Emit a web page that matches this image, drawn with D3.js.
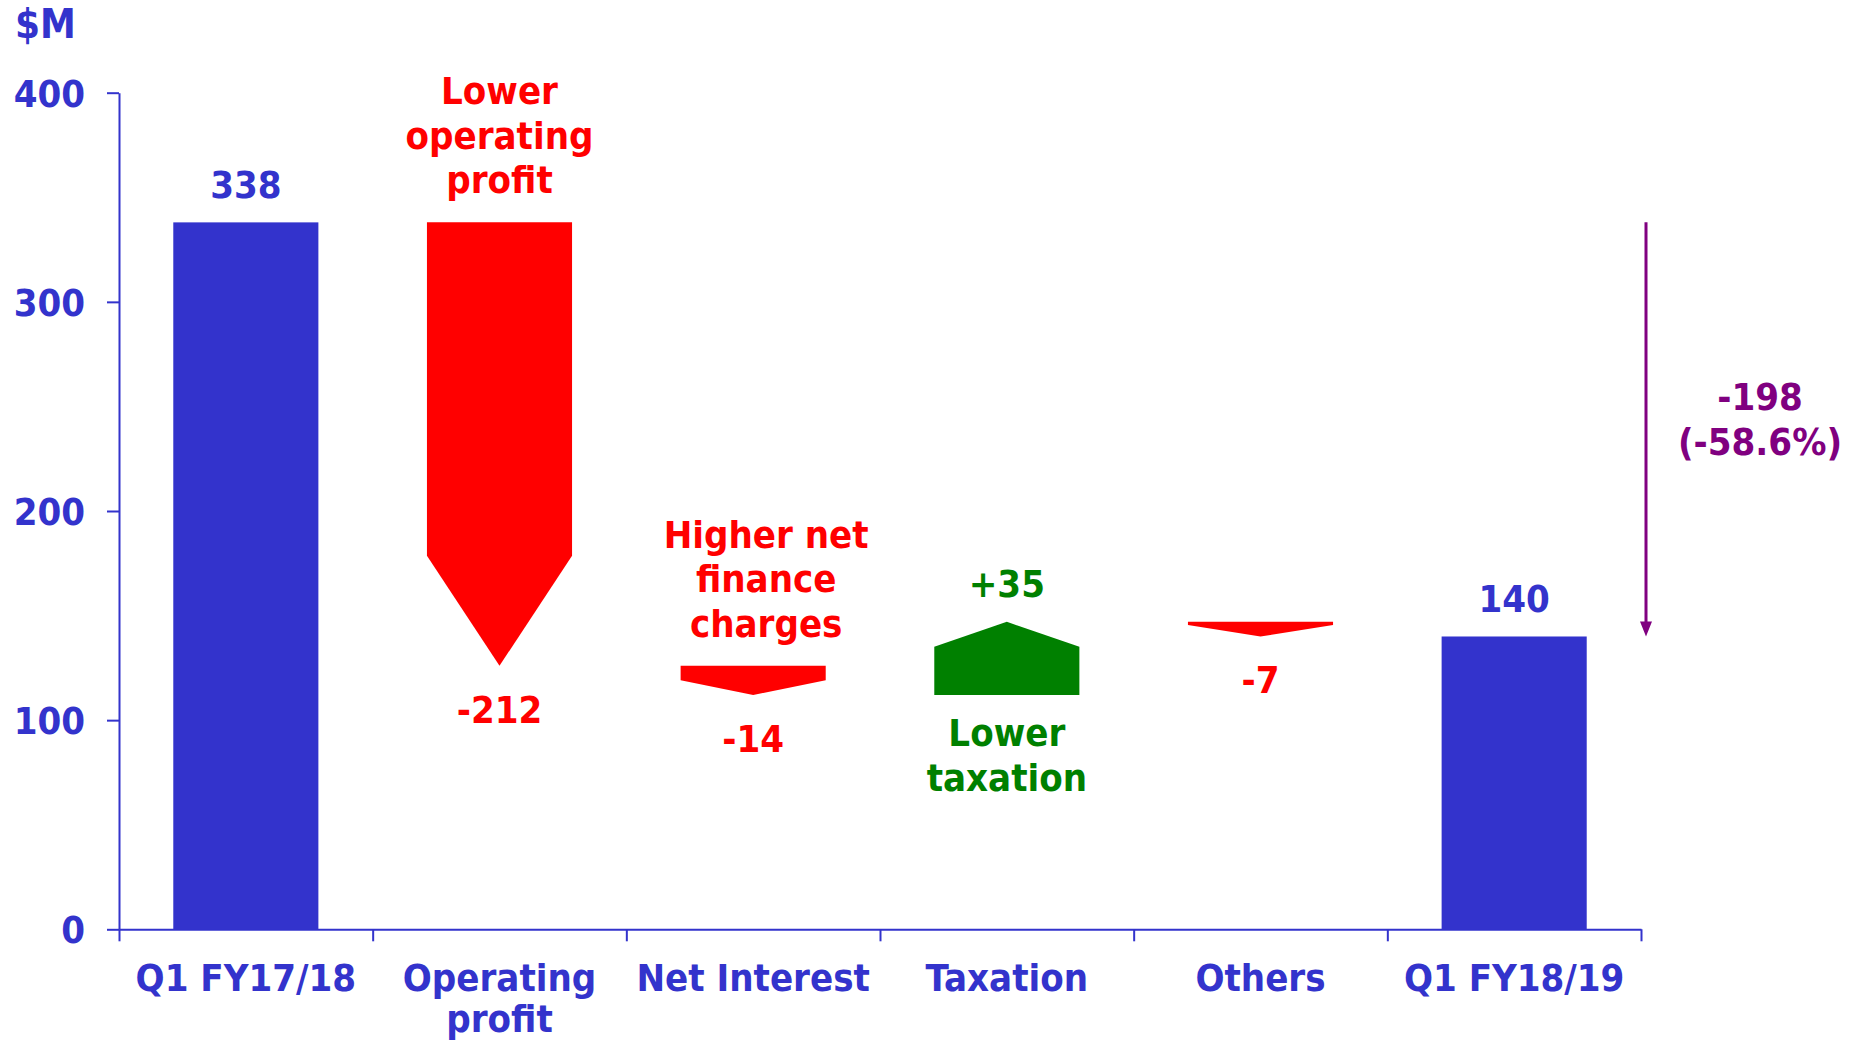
<!DOCTYPE html>
<html lang="en">
<head>
    <meta charset="UTF-8">
    <title>Profit bridge Q1 FY17/18 to Q1 FY18/19</title>
    <script src="https://d3js.org/d3.v7.min.js"></script>
    <style>
        body { margin: 0; background: white; }
        text { font-family: "DejaVu Sans Condensed", "DejaVu Sans", sans-serif; font-weight: bold; }
    </style>
</head>
<body>
    <svg id="svg1" height="1042" width="1857" style="background: white"></svg>

    <script>
        // data -------------------------------------------------------------------------
        const categories = ["Q1 FY17/18", "Operating\nprofit", "Net Interest", "Taxation", "Others", "Q1 FY18/19"];
        const steps = [338, -212, -14, 35, -7, 140];
        const stepKinds = ["total", "delta", "delta", "delta", "delta", "total"];
        const valueLabels = ["338", "-212", "-14", "+35", "-7", "140"];
        const notes = [[], ["Lower", "operating", "profit"], ["Higher net", "finance", "charges"], ["Lower", "taxation"], [], []];
        const yTicks = [0, 100, 200, 300, 400];
        const overallChange = ["-198", "(-58.6%)"];

        // colours
        const blue = "#3333CC", red = "#FF0000", green = "#008000", purple = "#800080";

        // chart setup ------------------------------------------------------------------
        const svg = d3.select("svg#svg1");
        const plot = {left: 119, right: 1641, top: 92.7, bottom: 929.3};
        const fontSize = 38;

        const y = d3.scaleLinear().domain([0, 400]).range([plot.bottom, plot.top]);
        const x = d3.scaleBand().domain(d3.range(categories.length)).range([plot.left, plot.right]).padding(0);
        const xEdges = d3.scaleLinear().domain([0, categories.length]).range([plot.left, plot.right]);
        const barW = x.bandwidth() * 0.572;

        // running totals for the waterfall
        let running = 0;
        const bars = steps.map((v, i) => {
            let lo, hi;
            if (stepKinds[i] === "total") { lo = 0; hi = v; running = v; }
            else { const start = running; running += v; lo = Math.min(start, running); hi = Math.max(start, running); }
            return {i, v, kind: stepKinds[i], lo, hi, cx: x(i) + x.bandwidth() / 2};
        });

        // axes -------------------------------------------------------------------------
        const yAxis = svg.append("g")
            .attr("transform", `translate(${plot.left},0)`)
            .call(d3.axisLeft(y).tickValues(yTicks).tickSize(12).tickSizeOuter(0).tickPadding(22));

        const xAxis = svg.append("g")
            .attr("transform", `translate(0,${plot.bottom})`)
            .call(d3.axisBottom(xEdges).ticks(categories.length).tickSize(12).tickSizeOuter(0).tickFormat(""));

        [yAxis, xAxis].forEach(g => {
            g.selectAll("path, line").attr("stroke", blue).attr("stroke-width", 2);
        });
        yAxis.selectAll("text")
            .attr("fill", blue)
            .style("font-size", fontSize + "px")
            .attr("dy", "0.36em");

        // category labels
        categories.forEach((c, i) => {
            const t = svg.append("text")
                .attr("text-anchor", "middle")
                .attr("fill", blue)
                .style("font-size", fontSize + "px");
            c.split("\n").forEach((line, k) => {
                t.append("tspan").attr("x", x(i) + x.bandwidth() / 2).attr("y", 991 + k * 41).text(line);
            });
        });

        svg.append("text")
            .attr("x", 15).attr("y", 38)
            .attr("fill", blue)
            .style("font-size", "40px")
            .text("$M");

        // bars and arrows --------------------------------------------------------------
        const arrowPoints = b => {
            const x0 = b.cx - barW / 2, x1 = b.cx + barW / 2;
            const yTop = y(b.hi), yBot = y(b.lo);
            const h = yBot - yTop;
            const head = Math.min(h, 8 + 0.23 * h);
            if (b.v < 0) {
                return [[x0, yTop], [x1, yTop], [x1, yBot - head], [b.cx, yBot], [x0, yBot - head]];
            }
            return [[x0, yBot], [x1, yBot], [x1, yTop + head], [b.cx, yTop], [x0, yTop + head]];
        };

        bars.forEach(b => {
            if (b.kind === "total") {
                svg.append("rect")
                    .attr("x", b.cx - barW / 2).attr("y", y(b.hi))
                    .attr("width", barW).attr("height", y(b.lo) - y(b.hi))
                    .attr("fill", blue);
            } else {
                svg.append("polygon")
                    .attr("points", arrowPoints(b).map(p => p.join(",")).join(" "))
                    .attr("fill", b.v < 0 ? red : green);
            }
        });

        // value labels and notes ------------------------------------------------------
        const noteDx = {2: 13};
        bars.forEach(b => {
            const colour = b.kind === "total" ? blue : (b.v < 0 ? red : green);
            let vy;
            if (b.kind === "total") vy = y(b.hi) - 24;
            else if (b.v < 0) vy = y(b.lo) + 57;
            else vy = y(b.hi) - 25;
            svg.append("text")
                .attr("x", b.cx).attr("y", vy)
                .attr("text-anchor", "middle")
                .attr("fill", colour)
                .style("font-size", fontSize + "px")
                .text(valueLabels[b.i]);

            const lines = notes[b.i];
            if (!lines.length) return;
            const t = svg.append("text")
                .attr("text-anchor", "middle")
                .attr("fill", colour)
                .style("font-size", fontSize + "px");
            const nx = b.cx + (noteDx[b.i] || 0);
            lines.forEach((line, k) => {
                let ly;
                if (b.v < 0) ly = y(b.hi) - 29 - (lines.length - 1 - k) * 44.6;   // stacked above the arrow
                else ly = y(b.lo) + 51 + k * 44.6;                                  // below a rising arrow
                t.append("tspan").attr("x", nx).attr("y", ly).text(line);
            });
        });

        // overall change marker ---------------------------------------------------------
        const ax = plot.right + 5;
        const yFrom = y(steps[0]), yTo = y(steps[steps.length - 1]);
        svg.append("line")
            .attr("x1", ax).attr("x2", ax)
            .attr("y1", yFrom).attr("y2", yTo - 12)
            .attr("stroke", purple).attr("stroke-width", 3);
        svg.append("polygon")
            .attr("points", [[ax - 6, yTo - 15], [ax + 6, yTo - 15], [ax, yTo]].map(p => p.join(",")).join(" "))
            .attr("fill", purple);
        const summary = svg.append("text")
            .attr("text-anchor", "middle")
            .attr("fill", purple)
            .style("font-size", fontSize + "px");
        overallChange.forEach((line, k) => {
            summary.append("tspan").attr("x", 1760).attr("y", 410 + k * 45).text(line);
        });
    </script>
</body>
</html>
